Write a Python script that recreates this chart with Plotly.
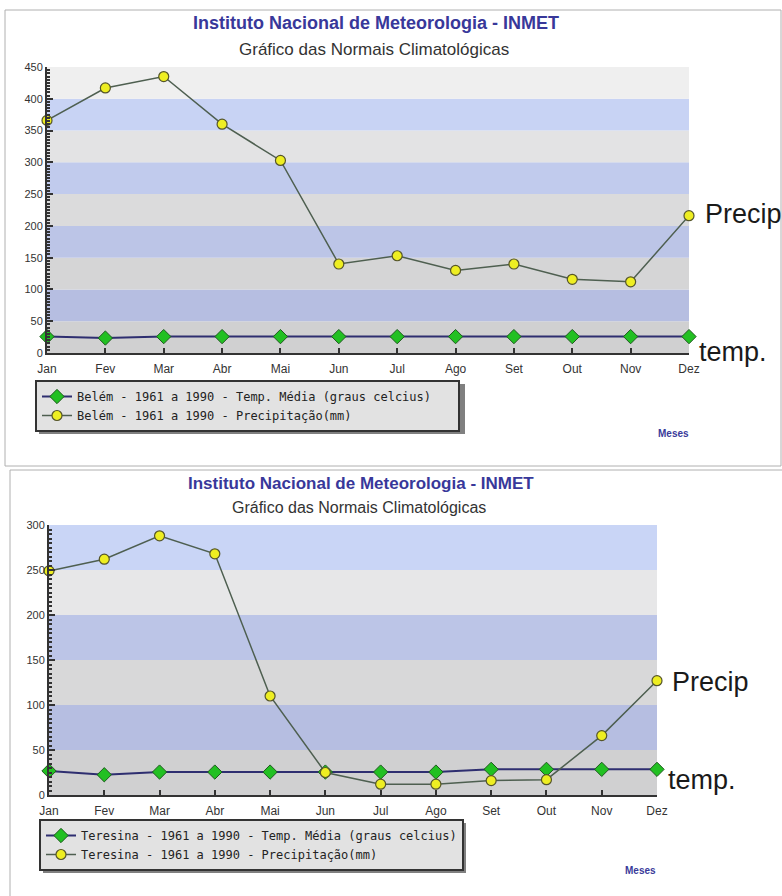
import plotly.graph_objects as go

W, H = 782, 896

meses = ["Jan", "Fev", "Mar", "Abr", "Mai", "Jun", "Jul", "Ago", "Set", "Out", "Nov", "Dez"]

# Belém 1961-1990
belem_temp = [25.8, 23.5, 25.8, 25.8, 25.8, 25.8, 25.8, 25.8, 25.8, 25.8, 25.8, 25.8]
belem_precip = [366, 417, 435, 360, 303, 140, 153, 130, 140, 116, 112, 216]

# Teresina 1961-1990
teresina_temp = [26.7, 22.5, 25.5, 25.5, 25.5, 25.5, 25.5, 25.5, 28.5, 28.5, 28.5, 28.5]
teresina_precip = [249, 262, 288, 268, 110, 25, 12, 12, 16, 17, 66, 127]

faixas1 = [0, 50, 100, 150, 200, 250, 300, 350, 400, 450]
cores1 = ["#d0d0d1", "#b6bee1", "#d5d5d6", "#bcc5e7", "#dbdbdc", "#c1cbed",
          "#e3e3e4", "#c8d3f4", "#efefef"]
faixas2 = [0, 50, 100, 150, 200, 250, 300]
cores2 = ["#d0d0d1", "#b6bee1", "#d8d8d9", "#bcc5e7", "#e7e7e8", "#c9d5f6"]

TEMP_LINE = "#2e2e70"
PREC_LINE = "#4e5f50"
GREEN = "#22c022"
YELLOW = "#eeee22"
PAD = "\u00a0\u00a0\u00a0"


def px_x(p):
    return p / W


def px_y(p):
    return 1 - p / H


fig = go.Figure()

for (temp, prec, cidade, xa, ya, leg, pad) in [
    (belem_temp, belem_precip, "Belém", "x", "y", "legend", PAD),
    (teresina_temp, teresina_precip, "Teresina", "x2", "y2", "legend2", ""),
]:
    fig.add_trace(go.Scatter(
        x=meses, y=temp, xaxis=xa, yaxis=ya, legend=leg,
        mode="lines+markers", cliponaxis=False,
        name=f"{cidade} - 1961 a 1990 - Temp. Média (graus celcius){pad}",
        line=dict(color=TEMP_LINE, width=2),
        marker=dict(symbol="diamond", size=11, color=GREEN,
                    line=dict(color="#1f5a1f", width=1)),
    ))
    fig.add_trace(go.Scatter(
        x=meses, y=prec, xaxis=xa, yaxis=ya, legend=leg,
        mode="lines+markers", cliponaxis=False,
        name=f"{cidade} - 1961 a 1990 - Precipitação(mm)",
        line=dict(color=PREC_LINE, width=1.5),
        marker=dict(symbol="circle", size=10, color=YELLOW,
                    line=dict(color="#55552a", width=1.2)),
    ))

shapes = []
for faixas, cores, yref, xref in [(faixas1, cores1, "y", "x domain"),
                                  (faixas2, cores2, "y2", "x2 domain")]:
    for i, c in enumerate(cores):
        shapes.append(dict(type="rect", xref=xref, yref=yref, x0=0, x1=1,
                           y0=faixas[i], y1=faixas[i + 1], fillcolor=c,
                           line=dict(width=0), layer="below"))

# panel borders
shapes.append(dict(type="rect", xref="paper", yref="paper",
                   x0=px_x(5), x1=px_x(781), y0=px_y(466), y1=px_y(10),
                   line=dict(color="#b0b0b0", width=1), fillcolor="rgba(0,0,0,0)"))
shapes.append(dict(type="line", xref="paper", yref="paper",
                   x0=px_x(10), x1=px_x(782), y0=px_y(470), y1=px_y(470),
                   line=dict(color="#b0b0b0", width=1)))
shapes.append(dict(type="line", xref="paper", yref="paper",
                   x0=px_x(10), x1=px_x(10), y0=px_y(470), y1=0,
                   line=dict(color="#b0b0b0", width=1)))
# legend shadows
for (x0, y0, x1, y1) in [(39, 384, 465, 434), (43, 823, 466, 873)]:
    shapes.append(dict(type="rect", xref="paper", yref="paper",
                       x0=px_x(x0), x1=px_x(x1), y0=px_y(y1), y1=px_y(y0),
                       fillcolor="#808080", line=dict(width=0), layer="above"))

annotations = []
for (ty, sy, tx, sx, ts, ss) in [(23, 49, 376, 374, 18, 17), (483, 507, 361, 359, 17, 16)]:
    annotations.append(dict(text="Instituto Nacional de Meteorologia - INMET",
                            xref="paper", yref="paper", x=px_x(tx), y=px_y(ty),
                            showarrow=False, xanchor="center", yanchor="middle",
                            font=dict(family="Liberation Sans, Arial", size=ts,
                                      color="#38389a", weight="bold")))
    annotations.append(dict(text="Gráfico das Normais Climatológicas",
                            xref="paper", yref="paper", x=px_x(sx), y=px_y(sy),
                            showarrow=False, xanchor="center", yanchor="middle",
                            font=dict(family="Liberation Sans, Arial", size=ss,
                                      color="#333333")))
for (mx, my) in [(673, 433), (640, 870)]:
    annotations.append(dict(text="Meses", xref="paper", yref="paper",
                            x=px_x(mx), y=px_y(my), showarrow=False,
                            xanchor="center", yanchor="middle",
                            font=dict(family="Liberation Sans, Arial", size=10,
                                      color="#3a3a9a", weight="bold")))
for (txt, lx, ly) in [("Precip", 703, 214), ("temp.", 697, 352),
                      ("Precip", 670, 682), ("temp.", 666, 780)]:
    annotations.append(dict(text=txt, xref="paper", yref="paper",
                            x=px_x(lx), y=px_y(ly), showarrow=False,
                            xanchor="left", yanchor="middle",
                            font=dict(family="Liberation Sans, Arial",
                                      size=27, color="#1a1a1a")))

axis_common = dict(showline=True, linecolor="#333333", linewidth=2,
                   ticks="inside", tickcolor="#333333", showgrid=False,
                   zeroline=False, automargin=False)
xfont = dict(family="Liberation Sans, Arial", size=12, color="#333333")
yfont = dict(family="Liberation Sans, Arial", size=11, color="#333333")
minor = dict(ticks="inside", dtick=5, ticklen=3, tickcolor="#333333")

fig.update_layout(
    width=W, height=H, margin=dict(l=0, r=0, t=0, b=0, autoexpand=False),
    paper_bgcolor="white", plot_bgcolor="white",
    showlegend=True,
    xaxis=dict(domain=[px_x(47), px_x(689)], anchor="y", type="category",
               range=[0, 11], ticklen=5, tickwidth=2, tickfont=xfont,
               ticklabelstandoff=4, **axis_common),
    yaxis=dict(domain=[px_y(353), px_y(67)], anchor="x", range=[0, 450],
               dtick=50, ticklen=6, tickwidth=2, minor=minor, tickfont=yfont,
               **axis_common),
    xaxis2=dict(domain=[px_x(49), px_x(657)], anchor="y2", type="category",
                range=[0, 11], ticklen=5, tickwidth=2, tickfont=xfont,
                ticklabelstandoff=4, **axis_common),
    yaxis2=dict(domain=[px_y(795), px_y(525)], anchor="x2", range=[0, 300],
                dtick=50, ticklen=6, tickwidth=2, minor=minor, tickfont=yfont,
                **axis_common),
    legend=dict(x=px_x(35), y=px_y(380), xanchor="left", yanchor="top",
                bgcolor="#e2e2e2", bordercolor="#333333", borderwidth=2,
                font=dict(family="DejaVu Sans Mono, monospace", size=12, color="#222222"),
                tracegroupgap=0, itemwidth=30),
    legend2=dict(x=px_x(39), y=px_y(819), xanchor="left", yanchor="top",
                 bgcolor="#e2e2e2", bordercolor="#333333", borderwidth=2,
                 font=dict(family="DejaVu Sans Mono, monospace", size=12, color="#222222"),
                 tracegroupgap=0, itemwidth=30),
    shapes=shapes, annotations=annotations,
)

fig.write_html("out.html", config={"displayModeBar": False},
               post_script="document.body.style.margin='0';")
